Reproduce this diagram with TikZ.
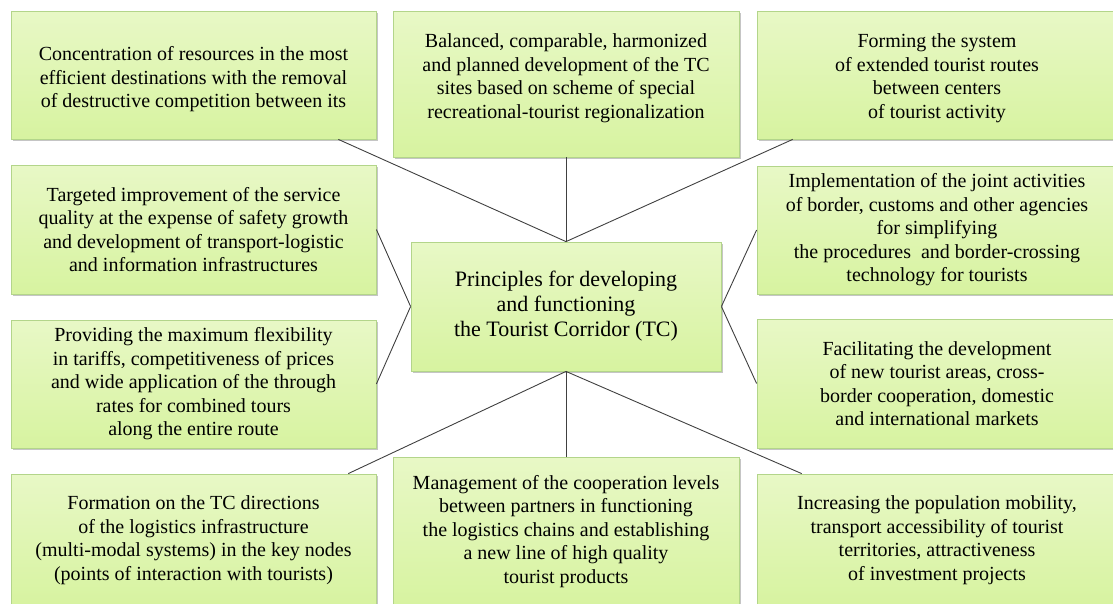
\documentclass[tikz,border=0pt]{standalone}
\usepackage{fontspec}
\setmainfont{Liberation Serif}
\usetikzlibrary{shadows,calc}
\definecolor{boxtop}{HTML}{E8F8C6}
\definecolor{boxbot}{HTML}{D7F3A0}
\definecolor{boxline}{HTML}{B3D58A}
\definecolor{linkc}{HTML}{404040}
\tikzset{
  pbox/.style={rectangle, draw=boxline, line width=0.8pt, top color=boxtop, bottom color=boxbot,
    align=center, inner sep=0pt, text=black,
    font=\fontsize{20}{23.5}\selectfont,
    drop shadow={shadow xshift=2pt, shadow yshift=-2pt, fill=black!45, opacity=0.5}},
  cbox/.style={pbox, font=\fontsize{22}{25}\selectfont},
  btext/.style={align=center, inner sep=0pt, text=black, font=\fontsize{20}{23.5}\selectfont},
  link/.style={draw=linkc, line width=0.9pt}
}
\begin{document}
\begin{tikzpicture}[x=1pt,y=-1pt]
\useasboundingbox (0,0) rectangle (1113,603);
\clip (0,0) rectangle (1113,603);
% boxes
\node[pbox, minimum width=365pt, minimum height=128pt,
  label={[btext, yshift=-4.5pt]center:Concentration of resources in the most\\efficient destinations with the removal\\of destructive competition between its}] (TL) at (193.5,75) {};
\node[pbox, minimum width=346pt, minimum height=146pt,
  label={[btext, yshift=6pt]center:Balanced, comparable, harmonized\\and planned development of the TC\\sites based on scheme of special\\recreational-tourist regionalization}] (TM) at (566,84) {};
\node[pbox, minimum width=360pt, minimum height=128pt,
  label={[btext, yshift=-3pt]center:Forming the system\\of extended tourist routes\\between centers\\of tourist activity}] (TR) at (937,75) {};
\node[pbox, minimum width=365pt, minimum height=129pt] (LM1) at (193.5,229.5)
  {Targeted improvement of the service\\quality at the expense of safety growth\\and development of transport-logistic\\and information infrastructures};
\node[pbox, minimum width=360pt, minimum height=128pt] (RM1) at (937,230)
  {Implementation of the joint activities\\of border, customs and other agencies\\for simplifying\\the procedures\ \ and border-crossing\\technology for tourists};
\node[cbox, minimum width=310pt, minimum height=129pt] (C) at (566,306.5)
  {Principles for developing\\and functioning\\the Tourist Corridor (TC)};
\node[pbox, minimum width=365pt, minimum height=128pt] (LM2) at (193.5,384)
  {Providing the maximum flexibility\\in tariffs, competitiveness of prices\\and wide application of the through\\rates for combined tours\\along the entire route};
\node[pbox, minimum width=360pt, minimum height=129pt] (RM2) at (937,383.5)
  {Facilitating the development\\of new tourist areas, cross-\\border cooperation, domestic\\and international markets};
\node[pbox, minimum width=365pt, minimum height=132pt] (BL) at (193.5,540)
  {Formation on the TC directions\\of the logistics infrastructure\\(multi-modal systems) in the key nodes\\(points of interaction with tourists)};
\node[pbox, minimum width=346pt, minimum height=149pt] (BM) at (566,531.5)
  {Management of the cooperation levels\\between partners in functioning\\the logistics chains and establishing\\a new line of high quality\\tourist products};
\node[pbox, minimum width=360pt, minimum height=132pt] (BR) at (937,540)
  {Increasing the population mobility,\\transport accessibility of tourist\\territories, attractiveness\\of investment projects};
% connectors
\draw[link] (C.north) -- ($(TL.south west)!0.896!(TL.south east)$);
\draw[link] (C.north) -- (TM.south);
\draw[link] (C.north) -- ($(TR.south west)!0.1!(TR.south east)$);
\draw[link] (C.west) -- (LM1.east);
\draw[link] (C.west) -- (LM2.east);
\draw[link] (C.east) -- (RM1.west);
\draw[link] (C.east) -- (RM2.west);
\draw[link] (C.south) -- ($(BL.north west)!0.923!(BL.north east)$);
\draw[link] (C.south) -- (BM.north);
\draw[link] (C.south) -- ($(BR.north west)!0.125!(BR.north east)$);
\end{tikzpicture}
\end{document}
